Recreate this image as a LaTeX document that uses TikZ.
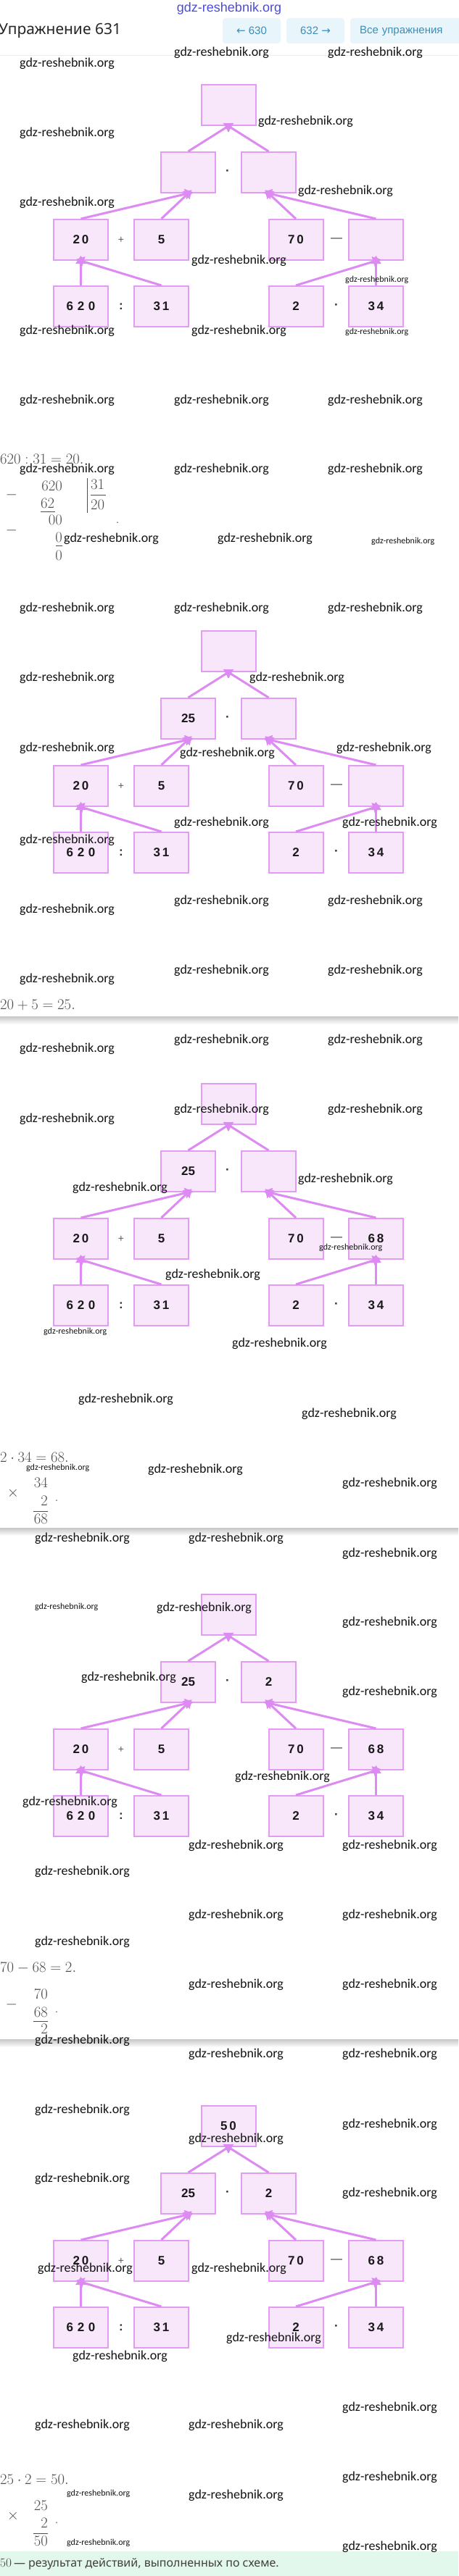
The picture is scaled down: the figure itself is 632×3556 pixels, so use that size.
\documentclass[tikz,border=0pt]{standalone}
\usepackage{fontspec}
\usetikzlibrary{arrows.meta}

\newfontfamily\wmfont{Carlito}
\newfontfamily\uifont{Noto Sans}
\newfontfamily\numfont{Liberation Sans}
\newfontfamily\arrfont{DejaVu Sans}

\definecolor{cellfill}{HTML}{F8E6FB}
\definecolor{cellline}{HTML}{E39CF3}
\definecolor{linkcol}{HTML}{DD8AF3}
\definecolor{btnfill}{HTML}{E8F6FB}
\definecolor{btntext}{HTML}{3E8DB5}
\definecolor{mathgray}{HTML}{4D4D4D}
\definecolor{bandgreen}{HTML}{E3F8EC}
\definecolor{topblue}{HTML}{4B4BE0}

\tikzset{
  cell/.style={draw=cellline, fill=cellfill, line width=2pt, minimum width=75pt,
    minimum height=56pt, inner sep=0pt, text=black!90,
    font=\numfont\bfseries\fontsize{17}{20}\selectfont},
  op/.style={inner sep=0pt, text=black!80, font=\numfont\bfseries\fontsize{17}{20}\selectfont},
  link/.style={draw=linkcol, line width=3pt, -{Triangle[width=14pt,length=11pt]}, shorten >=-7pt},
  wm/.style={anchor=west, inner sep=0pt, text=black!92, font=\wmfont\fontsize{18}{20}\selectfont},
  wmsmall/.style={wm, font=\wmfont\fontsize{12}{14}\selectfont},
  mathtxt/.style={inner sep=0pt, text=mathgray, font=\fontsize{20}{24}\selectfont},
  btn/.style={fill=btnfill, rounded corners=4pt, minimum height=35pt, inner sep=0pt,
    text=btntext, font=\numfont\fontsize{15}{18}\selectfont},
  sep/.style={top color=black!22, bottom color=white, draw=none},
}

% one scheme: #1 prefix, #2 top y, #3 result, #4 sum, #5 difference, #6 product
\newcommand{\schema}[6]{%
  \begin{scope}[shift={(0,#2)}]
    \node[cell] (#1res) at (315,28) {#3};
    \node[cell] (#1sum) at (259.5,121) {#4};
    \node[cell] (#1dif) at (370.5,121) {#5};
    \node[cell] (#1quo) at (111.5,214) {2\,0};
    \node[cell] (#1five) at (222.5,214) {5};
    \node[cell] (#1sev) at (408,214) {7\,0};
    \node[cell] (#1pro) at (518.5,214) {#6};
    \node[cell] (#1dvd) at (111.5,306) {6\,\,2\,\,0};
    \node[cell] (#1dvs) at (222.5,306) {3\,1};
    \node[cell] (#1two) at (408,306) {2};
    \node[cell] (#1tf) at (518.5,306) {3\,4};
    \node[op] (#1mul) at (314,121) {\textperiodcentered};
    \node[op, text=black!65, font=\numfont\fontsize{14}{16}\selectfont] (#1add) at (167,214) {+};
    \node[op, font=\numfont\fontsize{16}{18}\selectfont] (#1sub) at (464,214) {—};
    \node[op] (#1div) at (167,306) {:};
    \node[op] (#1mul2) at (464,306) {\textperiodcentered};
    \foreach \from/\to in {#1sum/#1res, #1dif/#1res, #1quo/#1sum, #1five/#1sum,
        #1sev/#1dif, #1pro/#1dif, #1dvd/#1quo, #1dvs/#1quo, #1two/#1pro, #1tf/#1pro}
      \draw[link] (\from.north) -- (\to.south);
  \end{scope}}

\begin{document}
\begin{tikzpicture}[x=1pt, y=-1pt]
\useasboundingbox (0,0) rectangle (632,3556);
\fill[white] (0,0) rectangle (632,3556);

% header
\node[inner sep=0pt, text=topblue, font=\numfont\fontsize{18}{20}\selectfont] (site) at (316,12) {gdz-reshebnik.org};
\node[anchor=west, inner sep=0pt, text=black!85, font=\uifont\bfseries\fontsize{21}{24}\selectfont] (title) at (-2,42) {Упражнение 631};
\node[btn, minimum width=80pt] (prev) at (347,42.5) {{\arrfont ←}\ 630};
\node[btn, minimum width=80pt] (next) at (435,42.5) {632\ {\arrfont →}};
\node[btn, minimum width=160pt, text width=150pt, align=left] (all) at (563,42.5) {\hspace*{8pt}Все упражнения};
\draw[black!7, line width=1pt] (0,77) -- (632,77);

% schemes
\schema{a}{117}{}{}{}{}
\schema{b}{871}{}{25}{}{}
\schema{c}{1496}{}{25}{}{6\,8}
\schema{d}{2201}{}{25}{2}{6\,8}
\schema{e}{2907}{5\,0}{25}{2}{6\,8}

% separators
\shade[sep] (0,1403) rectangle (632,1414);
\shade[sep] (0,2109) rectangle (632,2120);
\shade[sep] (0,2815) rectangle (632,2826);

% 620 : 31
\node[mathtxt, anchor=west] (eq1) at (0,634) {$620 : 31 = 20.$};
\node[mathtxt] (m1) at (16,683) {$-$};
\node[mathtxt, anchor=east] (d1) at (86,671) {$620$};
\node[mathtxt, anchor=west] (d2) at (56,695) {$62$};
\draw[mathgray, line width=0.8pt] (56,706) -- (76,706);
\node[mathtxt, anchor=east] (d3) at (86,718) {$00$};
\node[mathtxt] (m2) at (16,732) {$-$};
\node[mathtxt, anchor=east] (d4) at (86,742) {$0$};
\draw[mathgray, line width=0.8pt] (77,753) -- (86,753);
\node[mathtxt, anchor=east] (d5) at (86,767) {$0$};
\draw[mathgray, line width=0.8pt] (120,660) -- (120,708);
\node[mathtxt, anchor=west] (d6) at (125,669) {$31$};
\draw[mathgray, line width=0.8pt] (125,683) -- (146,683);
\node[mathtxt, anchor=west] (d7) at (125,697) {$20$};
\node[mathtxt] (p1) at (162,722) {.};

% 20 + 5
\node[mathtxt, anchor=west] (eq2) at (0,1387) {$20 + 5 = 25.$};

% 2 * 34
\node[mathtxt, anchor=west] (eq3) at (0,2012) {$2 \cdot 34 = 68.$};
\node[mathtxt, anchor=east] (e1) at (66,2047) {$34$};
\node[mathtxt] (x1) at (18,2061) {$\times$};
\node[mathtxt, anchor=east] (e2) at (66,2072) {$2$};
\node[mathtxt] (p2) at (78,2072) {.};
\draw[mathgray, line width=0.8pt] (46,2086) -- (66,2086);
\node[mathtxt, anchor=east] (e3) at (66,2097) {$68$};

% 70 - 68
\node[mathtxt, anchor=west] (eq4) at (0,2717) {$70 - 68 = 2.$};
\node[mathtxt, anchor=east] (f1) at (66,2753) {$70$};
\node[mathtxt] (m3) at (16,2767) {$-$};
\node[mathtxt, anchor=east] (f2) at (66,2778) {$68$};
\node[mathtxt] (p3) at (78,2778) {.};
\draw[mathgray, line width=0.8pt] (46,2790) -- (66,2790);
\node[mathtxt, anchor=east] (f3) at (66,2801) {$2$};

% 25 * 2
\node[mathtxt, anchor=west] (eq5) at (0,3423) {$25 \cdot 2 = 50.$};
\node[mathtxt, anchor=east] (g1) at (66,3459) {$25$};
\node[mathtxt] (x2) at (18,3473) {$\times$};
\node[mathtxt, anchor=east] (g2) at (66,3483) {$2$};
\node[mathtxt] (p4) at (78,3483) {.};
\draw[mathgray, line width=0.8pt] (46,3497) -- (66,3497);
\node[mathtxt, anchor=east] (g3) at (66,3508) {$50$};

% answer band
\fill[bandgreen] (0,3522) rectangle (632,3556);
\node[anchor=west, inner sep=0pt, text=black!75, font=\fontsize{18}{20}\selectfont] (answer) at (0,3539)
  {$50$\,{\uifont\fontsize{16}{18}\selectfont — результат действий, выполненных по схеме.}};

% watermarks
\foreach \x/\y [count=\i] in {240/73, 452/73, 27/88, 356/168, 27/184, 411/264, 27/280, 264/360, 27/457, 264/457,
    27/553, 240/553, 452/553, 27/648, 240/648, 452/648, 88/744, 300/744, 27/840, 240/840, 452/840,
    27/936, 344/936, 27/1033, 248/1040, 464/1033, 240/1136, 472/1136, 27/1160, 240/1244, 452/1244,
    27/1256, 240/1340, 452/1340, 27/1352,
    240/1436, 452/1436, 27/1448, 240/1532, 452/1532, 27/1545, 411/1628, 100/1640, 228/1760,
    320/1855, 108/1932, 416/1952,
    204/2029, 472/2048, 48/2124, 260/2124, 472/2145, 216/2220, 472/2240, 112/2316, 472/2336,
    324/2453, 31/2488, 260/2548, 472/2548,
    48/2584, 260/2644, 472/2644, 48/2681, 260/2740, 472/2740, 48/2817, 260/2836, 472/2836,
    48/2913, 260/2953, 472/2933, 48/3008, 472/3028,
    52/3132, 264/3132, 312/3228, 100/3253, 472/3324, 48/3348, 260/3348, 472/3420, 260/3445, 472/3516}
  \node[wm] (wm\i) at (\x,\y) {gdz-reshebnik.org};
\foreach \x/\y [count=\i] in {476/386, 476/458, 512/747, 440/1722, 60/1838, 36/2026, 48/2218, 92/3442, 92/3510}
  \node[wmsmall] (ws\i) at (\x,\y) {gdz-reshebnik.org};

\end{tikzpicture}
\end{document}
